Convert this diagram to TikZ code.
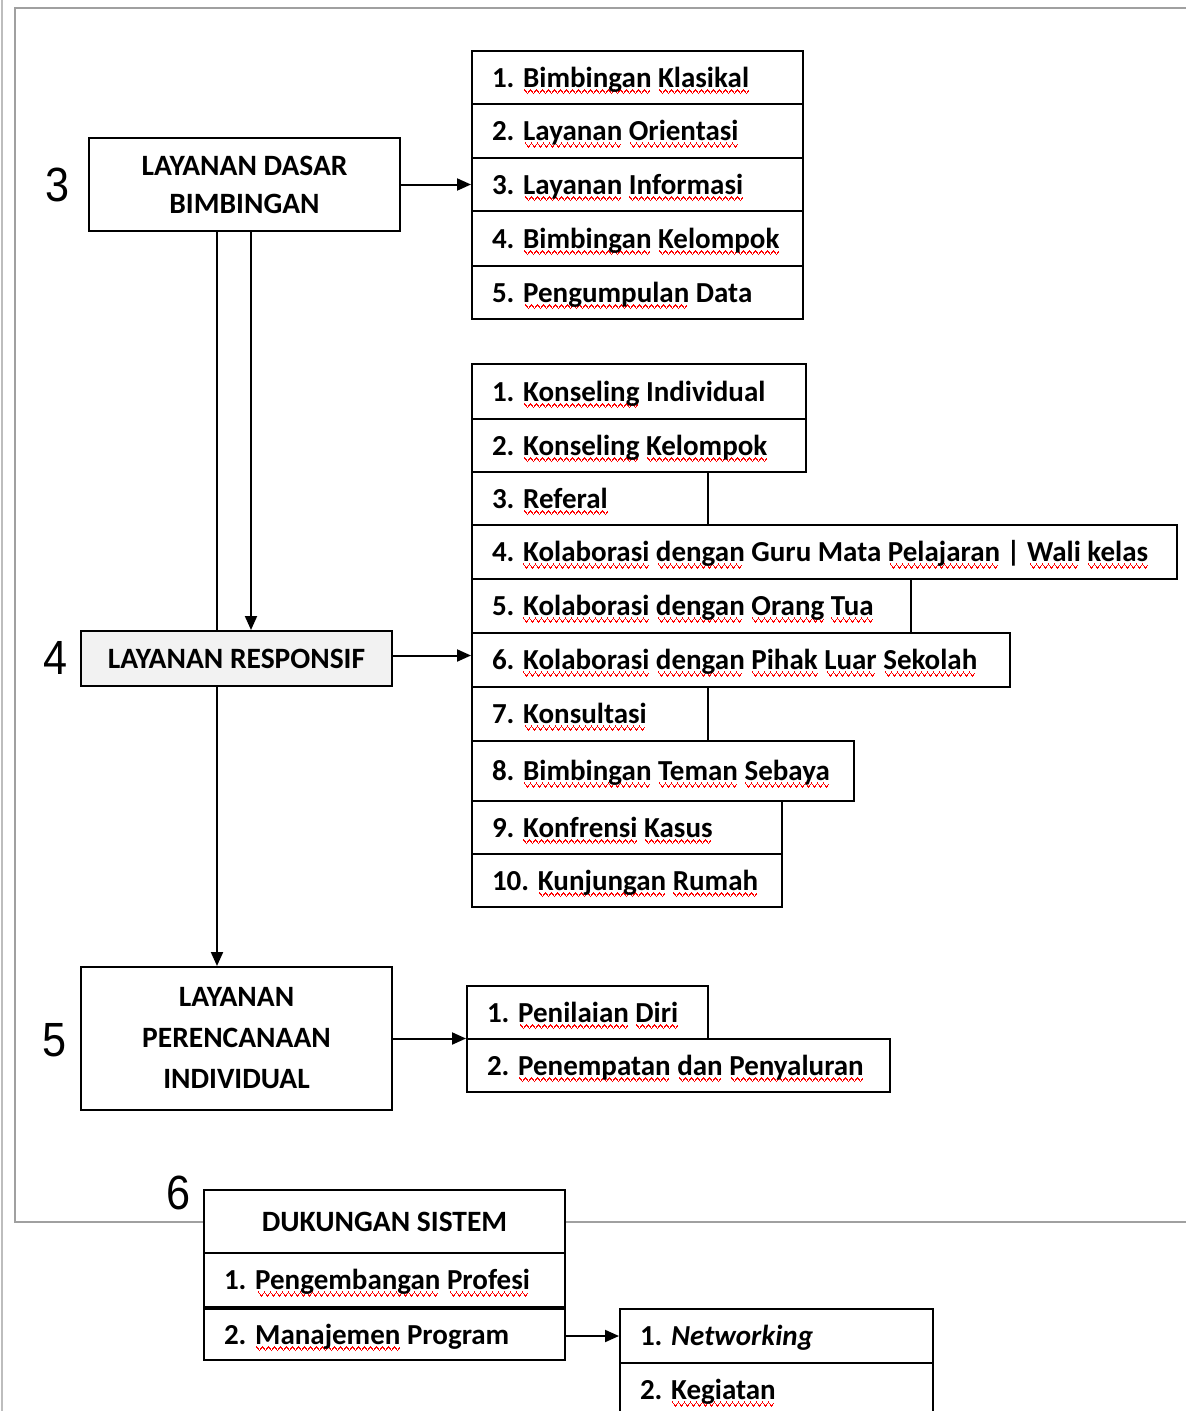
\documentclass[tikz,border=0pt]{standalone}
\usepackage{fontspec}
\setmainfont{Carlito}
\newfontfamily\numfont{Liberation Sans}
\usepackage{graphicx}
\usetikzlibrary{arrows.meta}
\definecolor{wavered}{HTML}{FF0000}
\newsavebox\wbox
\newsavebox\wavebox
\sbox\wavebox{\textcolor{wavered}{%
  \rule[-3.5pt]{1pt}{1.7pt}\rule[-4.8pt]{1pt}{1.7pt}\rule[-6.1pt]{1pt}{1.7pt}\rule[-7.4pt]{1pt}{1.7pt}%
  \rule[-6.1pt]{1pt}{1.7pt}\rule[-4.8pt]{1pt}{1.7pt}}}
\newcommand\w[1]{\sbox\wbox{#1}\leavevmode\rlap{\hbox to \wd\wbox{\cleaders\copy\wavebox\hfill}}\usebox\wbox}
\newcommand\rs{\rule[-8pt]{0pt}{35pt}}
\definecolor{framegray}{HTML}{A0A0A0}
\definecolor{boxgray}{HTML}{F2F2F2}
\tikzset{
  rowbox/.style={draw, line width=2pt, fill=white, anchor=north west, inner xsep=20pt, inner ysep=0pt,
    font=\fontsize{29}{35}\selectfont\bfseries},
  titlebox/.style={draw, line width=2pt, fill=white, inner sep=0pt, align=center},
  bignum/.style={inner sep=0pt, font=\fontsize{48}{48}\selectfont\numfont},
  conn/.style={line width=2pt},
  arr/.style={line width=2pt, -{Triangle[length=14pt,width=12pt]}},
}
\newcommand\rowb[6]{%
  \node[rowbox, minimum width={#4-#2}, minimum height={#5-#3}] (#1) at (#2,#3)
    {\makebox[\dimexpr#4pt-#2pt-40pt\relax][l]{\rs #6}};}
\begin{document}
\begin{tikzpicture}[x=1pt,y=-1pt]
\useasboundingbox (0,0) rectangle (1186,1411);
\fill[white] (0,0) rectangle (1186,1411);
\clip (0,0) rectangle (1186,1411);
% screen edge and frame
\draw[line width=2pt, color=framegray!70] (1.5,0) -- (1.5,1411);
\draw[line width=2pt, color=framegray] (15,8) rectangle (1200,1222);

% main boxes
\node[titlebox, minimum width=311pt, minimum height=93pt, font=\fontsize{29.5}{38}\selectfont\bfseries]
  (box3) at (244.5,184.5) {LAYANAN DASAR\\BIMBINGAN};
\node[titlebox, fill=boxgray, minimum width=311pt, minimum height=55pt, font=\fontsize{29.5}{35}\selectfont\bfseries]
  (box4) at (236.5,658.5) {LAYANAN RESPONSIF};
\node[titlebox, minimum width=311pt, minimum height=143pt, font=\fontsize{29.5}{41}\selectfont\bfseries]
  (box5) at (236.5,1038.5) {LAYANAN\\PERENCANAAN\\INDIVIDUAL};

% numbers
\node[bignum] (n3) at (58,185) {\scalebox{0.9}[1]{3}};
\node[bignum] (n4) at (56,658) {\scalebox{0.9}[1]{4}};
\node[bignum] (n5) at (55,1040) {\scalebox{0.9}[1]{5}};
\node[bignum] (n6) at (179,1193) {\scalebox{0.9}[1]{6}};

% list 1
\rowb{a1}{471}{50}{802}{103}{1. \w{Bimbingan} \w{Klasikal}}
\rowb{a2}{471}{103}{802}{157}{2. \w{Layanan} \w{Orientasi}}
\rowb{a3}{471}{157}{802}{210}{3. \w{Layanan} \w{Informasi}}
\rowb{a4}{471}{210}{802}{265}{4. \w{Bimbingan} \w{Kelompok}}
\rowb{a5}{471}{265}{802}{318}{5. \w{Pengumpulan} Data}

% list 2
\rowb{b1}{471}{363}{805}{418}{1. \w{Konseling} Individual}
\rowb{b2}{471}{418}{805}{471}{2. \w{Konseling} \w{Kelompok}}
\rowb{b3}{471}{471}{707}{524}{3. \w{Referal}}
\rowb{b4}{471}{524}{1176}{578}{4. \w{Kolaborasi} \w{dengan} Guru Mata \w{Pelajaran} | \w{Wali} \w{kelas}}
\rowb{b5}{471}{578}{910}{632}{5. \w{Kolaborasi} \w{dengan} \w{Orang} \w{Tua}}
\rowb{b6}{471}{632}{1009}{686}{6. \w{Kolaborasi} \w{dengan} \w{Pihak} \w{Luar} \w{Sekolah}}
\rowb{b7}{471}{686}{707}{740}{7. \w{Konsultasi}}
\rowb{b8}{471}{740}{853}{800}{8. \w{Bimbingan} \w{Teman} \w{Sebaya}}
\rowb{b9}{471}{800}{781}{853}{9. \w{Konfrensi} \w{Kasus}}
\rowb{b10}{471}{853}{781}{906}{10. \w{Kunjungan} \w{Rumah}}

% list 3
\rowb{c1}{466}{985}{707}{1038}{1. \w{Penilaian} \w{Diri}}
\rowb{c2}{466}{1038}{889}{1091}{2. \w{Penempatan} \w{dan} \w{Penyaluran}}

% dukungan sistem
\node[titlebox, anchor=north west, minimum width=361pt, minimum height=63pt, font=\fontsize{29.5}{35}\selectfont\bfseries]
  (d0) at (203,1189) {DUKUNGAN SISTEM};
\rowb{d1}{203}{1252}{564}{1306}{1. \w{Pengembangan} \w{Profesi}}
\rowb{d2}{203}{1308}{564}{1359}{2. \w{Manajemen} Program}

% list 4
\rowb{e1}{619}{1308}{932}{1362}{1. \textit{Networking}}
\rowb{e2}{619}{1362}{932}{1416}{2. \w{Kegiatan}}

% connectors
\draw[arr] (box3.east) -- (box3.east -| a3.west);
\draw[conn] ([xshift=-27.5pt]box3.south) -- ([xshift=-27.5pt]box3.south |- box4.north);
\draw[arr] ([xshift=6.5pt]box3.south) -- ([xshift=6.5pt]box3.south |- box4.north);
\draw[arr] ([xshift=-19.5pt]box4.south) -- ([xshift=-19.5pt]box4.south |- box5.north);
\draw[arr] ([yshift=3pt]box4.east) -- ([yshift=3pt]box4.east -| b6.west);
\draw[arr] (box5.east) -- (box5.east -| c1.west);
\draw[arr] ([yshift=-1.5pt]d2.east) -- ([yshift=-1.5pt]d2.east -| e1.west);
\end{tikzpicture}
\end{document}
